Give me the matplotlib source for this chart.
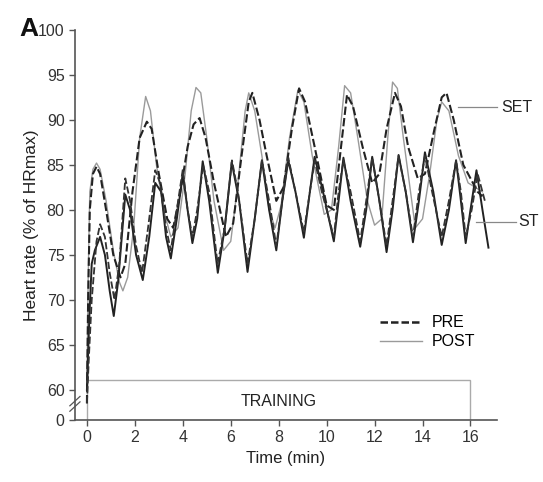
import numpy as np
import matplotlib
matplotlib.use("Agg")
from matplotlib import pyplot as plt
from matplotlib.patches import Rectangle

plt.rcParams['font.family'] = ['Liberation Sans', 'DejaVu Sans']

# time (min) and heart rate (% HRmax)
set_pre_t = [0, 0.05, 0.12, 0.25, 0.4, 0.55, 0.8, 1.1, 1.4, 1.6, 1.9, 2.2, 2.5, 2.7, 3.0,
             3.35, 3.6, 3.9, 4.2, 4.45, 4.7, 4.95, 5.3, 5.8, 6.1, 6.45, 6.75, 6.9, 7.2, 7.5,
             7.9, 8.2, 8.55, 8.85, 9.1, 9.5, 10.0, 10.3, 10.6, 10.85, 11.1, 11.5, 11.9, 12.2,
             12.5, 12.85, 13.1, 13.4, 13.8, 14.1, 14.5, 14.8, 15.0, 15.3, 15.7, 16.0, 16.3, 16.5]
set_pre_hr = [58.5, 70, 80, 84, 84.8, 84, 80, 75, 72.5, 74, 82, 88, 89.8, 89, 84,
              79, 78, 82, 87, 89.5, 90.2, 88, 83, 77, 78.5, 86, 92, 93, 90, 86,
              81, 82.5, 89, 93.5, 92, 87, 80.5, 80, 87, 92.8, 91.5, 87, 83, 84,
              89, 93, 91.5, 87, 83.5, 84, 89, 92.5, 93, 90, 85, 83.5, 82, 81.5]

set_post_t = [0, 0.05, 0.12, 0.25, 0.4, 0.55, 0.8, 1.1, 1.35, 1.5, 1.7, 1.95, 2.2, 2.45, 2.65,
              2.9, 3.2, 3.5, 3.8, 4.1, 4.35, 4.55, 4.75, 5.0, 5.3, 5.7, 6.0, 6.3, 6.6, 6.75,
              7.0, 7.3, 7.6, 7.85, 8.1, 8.45, 8.8, 9.05, 9.4, 9.9, 10.2, 10.5, 10.75, 11.0,
              11.3, 11.7, 12.0, 12.3, 12.55, 12.75, 12.95, 13.2, 13.7, 14.0, 14.3, 14.6, 14.8,
              15.1, 15.5, 15.9, 16.2, 16.5]
set_post_hr = [60, 72, 82, 84.5, 85.2, 84.5, 81, 75.5, 72, 71, 72.5, 78, 88, 92.6, 91,
               85, 80, 77, 78, 84, 91, 93.6, 93, 88, 81, 75.5, 76.5, 83, 91, 93,
               91, 86, 80, 78, 80.5, 88, 93.3, 92, 86, 79.5, 80, 87, 93.8, 93,
               88, 81, 78.3, 79, 88, 94.2, 93.5, 88, 78, 79, 84, 90, 92,
               91, 86, 83, 82.5, 82]

st_pre_t = [0, 0.08, 0.2, 0.4, 0.55, 0.75, 0.95, 1.15, 1.35, 1.6, 1.8, 2.05, 2.3, 2.55, 2.85,
            3.05, 3.3, 3.5, 3.75, 4.0, 4.2, 4.4, 4.6, 4.85, 5.1, 5.45, 5.75, 6.05, 6.3, 6.7,
            7.0, 7.3, 7.6, 7.9, 8.15, 8.4, 8.7, 9.05, 9.3, 9.5, 9.8, 10.3, 10.5, 10.7, 11.0,
            11.4, 11.65, 11.9, 12.2, 12.5, 12.75, 13.0, 13.3, 13.6, 13.85, 14.1, 14.4, 14.8,
            15.1, 15.4, 15.6, 15.8, 16.05, 16.3, 16.6]
st_pre_hr = [58.5, 63.5, 70, 76.5, 78.4, 77, 73, 70, 74, 83.5, 81, 76, 73, 78, 84.4,
             83, 78, 75.5, 80, 84.5, 80, 77, 80, 85, 82, 74, 78, 85.5, 82, 74,
             79, 85.5, 81, 76, 81, 85.8, 82, 77.5, 82, 85.5, 82, 77, 82, 85.5, 82,
             76.5, 81, 85.8, 81, 76, 81, 86, 82, 77, 82, 86, 82, 77,
             81, 85.5, 82, 77, 80, 84, 81]

st_post_t = [0, 0.1, 0.2, 0.33, 0.55, 0.75, 0.95, 1.12, 1.3, 1.6, 1.8, 2.05, 2.33, 2.6, 2.85,
             3.1, 3.3, 3.5, 3.75, 4.0, 4.2, 4.4, 4.6, 4.83, 5.1, 5.46, 5.75, 6.04, 6.35, 6.7,
             7.0, 7.3, 7.6, 7.9, 8.15, 8.4, 8.7, 9.05, 9.3, 9.5, 9.85, 10.3, 10.5, 10.7, 11.0,
             11.4, 11.65, 11.9, 12.2, 12.5, 12.75, 13.0, 13.3, 13.6, 13.85, 14.1, 14.45, 14.8,
             15.1, 15.4, 15.6, 15.8, 16.0, 16.25, 16.5, 16.75]
st_post_hr = [60, 68, 74, 75.5, 77, 75, 71, 68.2, 72, 81.7, 80, 75, 72.2, 77, 83,
              82, 77, 74.6, 79, 84, 80, 76.3, 79, 85.4, 81, 73, 78, 85.3, 81, 73.1,
              79, 85.5, 80, 75.5, 81, 85.5, 82, 76.9, 82, 85.9, 82, 76.5, 81, 85.8, 81,
              75.9, 80, 85.9, 81, 75.3, 80, 86.1, 82, 76.4, 81, 86.4, 82, 76.1,
              80, 85.5, 81, 76.3, 80, 84.4, 80, 75.8]

y_ticks = [60, 65, 70, 75, 80, 85, 90, 95, 100]
x_ticks = [0, 2, 4, 6, 8, 10, 12, 14, 16]
zero_pos = 56.667  # where the "0" tick sits below the axis break
training_end = 16
training_top = 61.1

fig = plt.figure(figsize=(5.43, 4.82), dpi=100)
ax = fig.add_axes([0.138, 0.129, 0.777, 0.809])

ax.add_patch(Rectangle((0, zero_pos), training_end, training_top - zero_pos,
                       fill=False, edgecolor='#aaaaaa', lw=1))
ax.text(training_end / 2, 58.7, 'TRAINING', ha='center', va='center', fontsize=11.5, color='#222')

kw = dict(solid_joinstyle='round', dash_joinstyle='round')
ax.plot(set_post_t, set_post_hr, color='#9a9a9a', lw=1.0, **kw)
ax.plot(st_post_t, st_post_hr, color='#222222', lw=1.4, **kw)
ax.plot(set_pre_t, set_pre_hr, color='#222222', lw=1.5, dashes=(4, 1.5), **kw)
ax.plot(st_pre_t, st_pre_hr, color='#333333', lw=1.3, dashes=(4, 1.5), **kw)

# group labels
ax.plot([15.46, 17.1], [91.4, 91.4], color='#888', lw=0.9, clip_on=False)
ax.text(17.3, 91.4, 'SET', va='center', ha='left', fontsize=11.5, color='#222')
ax.plot([16.25, 17.9], [78.7, 78.7], color='#888', lw=0.9, clip_on=False)
ax.text(18.0, 78.7, 'ST', va='center', ha='left', fontsize=11.5, color='#222')

# legend
pre_h, = ax.plot([], [], color='#222222', lw=1.8, dashes=(3, 1.2))
post_h, = ax.plot([], [], color='#9a9a9a', lw=1.0)
ax.legend([pre_h, post_h], ['PRE', 'POST'], loc='upper left', bbox_to_anchor=(0.69, 0.305),
          frameon=False, fontsize=11.5, handlelength=2.6, labelspacing=0.25, handletextpad=0.6)

ax.set_xlim(-0.5, 17.1)
ax.set_ylim(zero_pos, 100)
ax.set_xticks(x_ticks)
ax.set_yticks([zero_pos] + y_ticks)
ax.set_yticklabels(['0'] + [str(v) for v in y_ticks])

for s in ['top', 'right']:
    ax.spines[s].set_visible(False)
for s in ['left', 'bottom']:
    ax.spines[s].set_color('#555555')
    ax.spines[s].set_linewidth(1.2)
ax.tick_params(direction='out', length=4, width=1, color='#555555', labelsize=11.5,
               labelcolor='#333333')

# axis break marks
for dy in [0.0, 0.014]:
    ax.plot([-0.012, 0.012], [0.022 + dy, 0.046 + dy], transform=ax.transAxes,
            color='#555555', lw=0.9, clip_on=False)

ax.set_xlabel('Time (min)', fontsize=12, color='#222', labelpad=4)
ax.set_ylabel('Heart rate (% of HRmax)', fontsize=12.5, color='#222', labelpad=-1)
fig.text(0.035, 0.925, 'A', fontsize=19, fontweight='bold', color='#111')

fig.savefig('out.png', dpi=100)
